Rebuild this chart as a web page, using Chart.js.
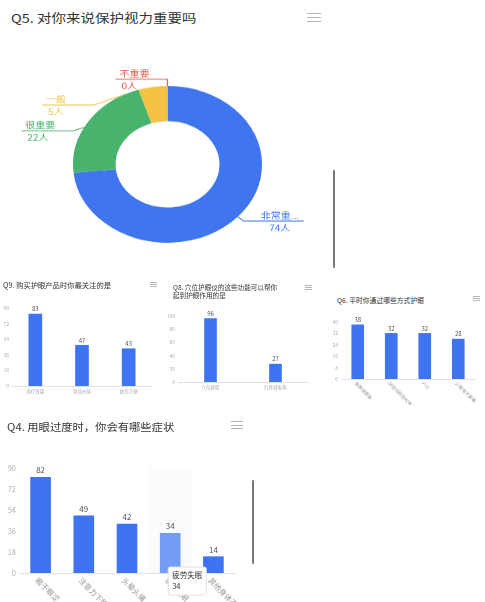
<!DOCTYPE html>
<html>
<head>
<meta charset="utf-8">
<script src="https://cdn.jsdelivr.net/npm/chart.js@4.4.0/dist/chart.umd.min.js"></script>
<style>
  body { margin: 0; background: #fff; width: 485px; height: 602px; overflow: hidden; position: relative; font-family: "Noto Sans CJK SC", sans-serif; }
  canvas { position: absolute; }
  .title { position: absolute; color: #333; white-space: nowrap; transform-origin: left top; }
  .menu { position: absolute; border-top: 1px solid #b5b5b5; border-bottom: 1px solid #b5b5b5; box-sizing: border-box; }
  .menu::after { content: ''; position: absolute; left: 0; right: 0; top: calc(50% - 0.5px); border-top: 1px solid #b5b5b5; }
  .scroll { position: absolute; width: 2px; background: #777; border-radius: 1px; }
  #donutWrap { position: absolute; left: 0; top: 61px; width: 340px; height: 280px; transform: scaleY(0.83); transform-origin: left top; }
</style>
</head>
<body>
<div class="title" style="left:11px;top:9px;font-size:14.5px;transform:scaleY(0.85)">Q5. 对你来说保护视力重要吗</div>
<div class="menu" style="left:307px;top:13px;width:14px;height:9px"></div>
<div id="donutWrap"><canvas id="q5" width="340" height="280" style="left:0;top:0"></canvas></div>
<div class="scroll" style="left:333px;top:170px;height:98px"></div>

<div class="title" style="left:3px;top:280px;font-size:7.3px">Q9. 购买护眼产品时你最关注的是</div>
<div class="menu" style="left:150px;top:282px;width:7px;height:5px"></div>
<canvas id="q9" width="165" height="106" style="left:0;top:295px"></canvas>

<div class="title" style="left:173px;top:283px;font-size:6.6px;line-height:8px">Q8. 穴位护眼仪的这些功能可以帮你<br>起到护眼作用的是</div>
<div class="menu" style="left:305px;top:285px;width:7px;height:5px"></div>
<canvas id="q8" width="160" height="94" style="left:165px;top:300px"></canvas>

<div class="title" style="left:337px;top:295px;font-size:6.8px">Q6. 平时你通过哪些方式护眼</div>
<div class="menu" style="left:473px;top:296px;width:7px;height:5px"></div>
<canvas id="q6" width="160" height="95" style="left:325px;top:310px"></canvas>

<div class="title" style="left:7px;top:419px;font-size:11.3px;transform:scaleY(0.9)">Q4. 用眼过度时，你会有哪些症状</div>
<div class="menu" style="left:231px;top:421px;width:12px;height:8px"></div>
<canvas id="q4" width="250" height="160" style="left:0;top:445px"></canvas>
<div class="scroll" style="left:252px;top:480px;height:84px"></div>

<script>
const q5Labels = ['非常重要', '很重要', '一般', '不重要'];
const q5Values = [74, 22, 5, 0];
const q5Colors = ['#3f76ee', '#47b36d', '#f4c243', '#e5584b'];

const q9Labels = ['治疗效果', '商品价格', '操作方便'];
const q9Values = [83, 47, 43];
const q9Ticks = [0, 18, 36, 54, 72, 90];

const q8Labels = ['穴位按摩', '红外线发热'];
const q8Values = [96, 27];
const q8Ticks = [0, 20, 40, 60, 80, 100];

const q6Labels = ['做眼保健操', '闭目远眺放松休息', '户外', '少看电子屏幕'];
const q6Values = [38, 32, 32, 28];
const q6Ticks = [0, 8, 16, 24, 32, 40];

const q4Labels = ['眼干眼涩', '注意力下降', '头晕头痛', '疲劳失眠', '其他身体不适'];
const q4Values = [82, 49, 42, 34, 14];
const q4Ticks = [0, 18, 36, 54, 72, 90];

const BLUE = '#3f74f0';
Chart.defaults.font.family = '"Noto Sans CJK SC", sans-serif';

// leader-line labels round the doughnut, pushed apart when they crowd
const donutLabels = {
  id: 'donutLabels',
  afterDraw(chart) {
    const ctx = chart.ctx;
    const arcs = chart.getDatasetMeta(0).data;
    const items = arcs.map((a, i) => {
      const mid = (a.startAngle + a.endAngle) / 2;
      const c = Math.cos(mid), s = Math.sin(mid);
      return { i, a, mid, side: c > 0.01 ? 1 : -1, ey: a.y + s * (a.outerRadius + 8) };
    });
    [-1, 1].forEach(side => {
      let prev = -Infinity;
      items.filter(it => it.side === side).sort((p, q) => p.ey - q.ey).forEach(it => {
        it.ey = Math.max(it.ey, prev + 31);
        prev = it.ey;
      });
    });
    ctx.save();
    ctx.font = '10px "Noto Sans CJK SC", sans-serif';
    items.forEach(it => {
      const a = it.a, R = a.outerRadius + 8;
      const dy = it.ey - a.y;
      const ex = a.x + it.side * Math.sqrt(Math.max(R * R - dy * dy, 0));
      const eAng = Math.atan2(dy, ex - a.x);
      let d = eAng - it.mid;
      while (d > Math.PI) d -= 2 * Math.PI;
      while (d < -Math.PI) d += 2 * Math.PI;
      const ang = it.mid + d / 2;
      const ax = a.x + Math.cos(ang) * a.outerRadius, ay = a.y + Math.sin(ang) * a.outerRadius;
      const endX = ex + it.side * (it.side < 0 ? 52 : 60);
      const col = q5Colors[it.i];
      ctx.strokeStyle = col;
      ctx.lineWidth = 1.2;
      ctx.beginPath();
      ctx.moveTo(ax, ay);
      ctx.lineTo(ex, it.ey);
      ctx.lineTo(endX, it.ey);
      ctx.stroke();
      let name = q5Labels[it.i];
      if (name.length > 3) name = name.slice(0, 3) + '...';
      ctx.fillStyle = col;
      let tx;
      if (it.side < 0) { ctx.textAlign = 'left'; tx = endX + 4; }
      else { ctx.textAlign = 'center'; tx = (ex + endX) / 2 + 6; }
      ctx.textBaseline = 'bottom';
      ctx.fillText(name, tx, it.ey - 2);
      ctx.textBaseline = 'top';
      ctx.fillText(q5Values[it.i] + '人', tx + (it.side < 0 ? 2 : 0), it.ey + 3);
    });
    ctx.restore();
  }
};

new Chart(document.getElementById('q5'), {
  type: 'doughnut',
  data: { labels: q5Labels, datasets: [{ data: q5Values, backgroundColor: q5Colors, borderWidth: 0 }] },
  options: {
    responsive: false, animation: false, events: [],
    cutout: '55%',
    layout: { padding: { left: 73, right: 78, top: 30, bottom: 61 } },
    plugins: { legend: { display: false }, tooltip: { enabled: false } }
  },
  plugins: [donutLabels]
});

// numbers above bars, slanted category names, shaded active column
const barExtras = {
  id: 'barExtras',
  beforeDatasetsDraw(chart) {
    const act = chart.getActiveElements();
    if (!act.length) return;
    const x = chart.scales.x, area = chart.chartArea;
    const w = (x.right - x.left) / chart.data.labels.length;
    const cx = x.getPixelForValue(act[0].index);
    chart.ctx.save();
    chart.ctx.fillStyle = 'rgba(150,150,150,0.035)';
    chart.ctx.fillRect(cx - w / 2, area.top, w, area.bottom - area.top);
    chart.ctx.restore();
  },
  afterDatasetsDraw(chart, args, opts) {
    const ctx = chart.ctx;
    const meta = chart.getDatasetMeta(0);
    const vals = chart.data.datasets[0].data;
    ctx.save();
    ctx.fillStyle = '#555';
    ctx.font = opts.valSize + 'px "Noto Sans CJK SC", sans-serif';
    ctx.textAlign = 'center';
    ctx.textBaseline = 'bottom';
    meta.data.forEach((b, i) => ctx.fillText(vals[i], b.x, b.y - opts.valGap));
    if (opts.slant) {
      const x = chart.scales.x;
      ctx.fillStyle = '#999';
      ctx.font = opts.slant + 'px "Noto Sans CJK SC", sans-serif';
      ctx.textAlign = 'left';
      ctx.textBaseline = 'middle';
      chart.data.labels.forEach((lab, i) => {
        ctx.save();
        ctx.translate(x.getPixelForValue(i) - opts.slant * 0.5, x.top + opts.slant * 0.8);
        ctx.rotate(Math.PI / 4);
        ctx.fillText(lab, 0, 0);
        ctx.restore();
      });
    }
    ctx.restore();
  }
};

function barChart(id, labels, values, ticks, o) {
  return new Chart(document.getElementById(id), {
    type: 'bar',
    data: {
      labels: labels,
      datasets: [{ data: values, backgroundColor: BLUE, hoverBackgroundColor: '#739cf5', barThickness: o.bar }]
    },
    options: {
      responsive: false, animation: false, events: [],
      layout: { padding: o.pad },
      plugins: {
        legend: { display: false },
        tooltip: o.tooltip || { enabled: false },
        barExtras: { valSize: o.valSize, valGap: o.valGap, slant: o.slant || 0 }
      },
      scales: {
        x: {
          grid: { display: false, drawTicks: false },
          border: { color: '#e2e2e2' },
          ticks: { display: !o.slant, color: '#aaa', font: { size: o.xSize }, padding: 3, maxRotation: 0, autoSkip: false },
          afterFit: s => { s.height = o.xh; }
        },
        y: {
          min: ticks[0], max: ticks[ticks.length - 1],
          grid: { display: false, drawTicks: false },
          border: { display: false },
          ticks: { stepSize: ticks[1] - ticks[0], color: '#b0b0b0', font: { size: o.ySize }, padding: 3 },
          afterFit: s => { s.width = o.yw; }
        }
      }
    },
    plugins: [barExtras]
  });
}

barChart('q9', q9Labels, q9Values, q9Ticks, {
  bar: 13, pad: { left: 0, right: 13, top: 13, bottom: 0 }, yw: 12, xh: 15,
  ySize: 5, xSize: 4.5, valSize: 6, valGap: 2
});
barChart('q8', q8Labels, q8Values, q8Ticks, {
  bar: 12, pad: { left: 0, right: 17, top: 16, bottom: 0 }, yw: 13, xh: 12,
  ySize: 5, xSize: 4.5, valSize: 6, valGap: 2
});
barChart('q6', q6Labels, q6Values, q6Ticks, {
  bar: 12, pad: { left: 2, right: 10, top: 12, bottom: 0 }, yw: 14, xh: 26,
  ySize: 5, valSize: 6, valGap: 2, slant: 4.5
});

Chart.Tooltip.positioners.under = function (items) {
  if (!items.length) return false;
  const el = items[0].element;
  return { x: el.x, y: el.base - 6, xAlign: 'left', yAlign: 'top' };
};

const q4 = barChart('q4', q4Labels, q4Values, q4Ticks, {
  bar: 20, pad: { left: 0, right: 15, top: 23, bottom: 0 }, yw: 19, xh: 32,
  ySize: 7.5, valSize: 8, valGap: 3, slant: 7.5,
  tooltip: {
    enabled: true, animation: false, position: 'under',
    backgroundColor: '#fff', borderColor: '#e0e0e0', borderWidth: 1,
    titleColor: '#333', bodyColor: '#333', displayColors: false,
    titleFont: { size: 7.5, weight: 'normal' }, bodyFont: { size: 7.5 },
    padding: 4, titleMarginBottom: 2, caretSize: 0, caretPadding: 0, cornerRadius: 2
  }
});
q4.setActiveElements([{ datasetIndex: 0, index: 3 }]);
q4.tooltip.setActiveElements([{ datasetIndex: 0, index: 3 }], { x: 170, y: 120 });
q4.update();
</script>
</body>
</html>
